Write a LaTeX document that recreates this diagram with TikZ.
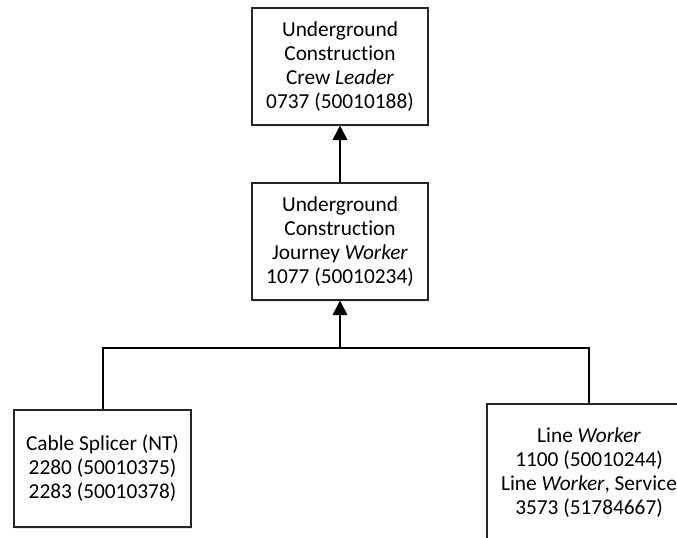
\documentclass[tikz,border=0pt]{standalone}
\usepackage{fontspec}
\setmainfont{Carlito}[Ligatures=NoCommon]
\usetikzlibrary{arrows.meta,shadows}
\begin{document}
\begin{tikzpicture}[x=0.75pt,y=-0.75pt,
  box/.style={draw=black!85,line width=0.8pt,fill=white,align=center,inner sep=0pt,
    font=\fontsize{16}{18}\selectfont,
    drop shadow={opacity=0.12,shadow xshift=0.8pt,shadow yshift=-1.8pt,fill=blue!40!gray}},
  conn/.style={line width=1.5pt,black},
  arr/.style={conn,-{Triangle[length=11pt,width=11pt]}}]
\useasboundingbox (0,0) rectangle (677,537);
\clip (0,0) rectangle (677,537);
\fill[white] (0,0) rectangle (677,537);
\node[box,minimum width=132pt,minimum height=87.75pt] (top) at (340,66.5)
  {Underground\\Construction\\Crew \textit{Leader}\\0737 (50010188)};
\node[box,minimum width=132pt,minimum height=87.75pt] (mid) at (340,241.5)
  {Underground\\Construction\\Journey \textit{Worker}\\1077 (50010234)};
\node[box,minimum width=132.75pt,minimum height=87.75pt] (left) at (102.5,468.5)
  {Cable Splicer (NT)\\2280 (50010375)\\2283 (50010378)};
\node[box,minimum width=153pt,minimum height=103.5pt] (right) at (589,473)
  {Line \textit{Worker}\\1100 (50010244)\\Line \textit{Worker}, Service\\3573 (51784667)};
\coordinate (j) at (340,348);
\draw[arr] (mid.north) -- (top.south);
\draw[conn] (left.north) |- (j) -| (right.north);
\draw[arr] (j) -- (mid.south);
\end{tikzpicture}
\end{document}
